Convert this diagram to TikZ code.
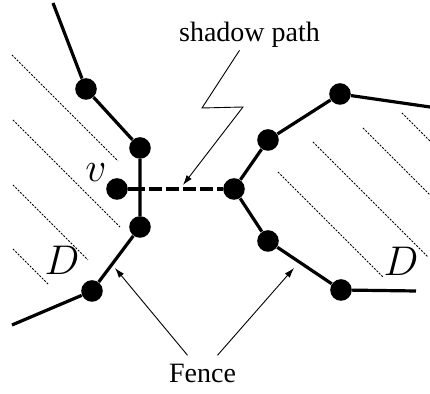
\documentclass[tikz,border=0pt]{standalone}
\usepackage{fontspec}
\setmainfont{Liberation Serif}
\usepackage{tikz}
\usepackage{xcolor}
\usetikzlibrary{arrows.meta,positioning,calc}
\definecolor{ink}{HTML}{000000}
\tikzset{
  post/.style={circle,fill=ink,draw=none,inner sep=0pt,minimum size=10.8pt},
  fenceline/.style={draw=ink,line width=1.6pt},
  shadowline/.style={draw=ink,line width=1.6pt,dash pattern=on 6.5pt off 2pt,dash phase=4pt},
  hatchline/.style={draw=ink,line width=0.45pt,dash pattern=on 1pt off 0.7pt},
  pointer/.style={-{Latex[length=5pt,width=3.2pt]},line width=0.45pt,color=ink},
  caption/.style={font=\fontsize{14}{16}\selectfont,inner sep=1pt,anchor=base},
  mathlbl/.style={font=\fontsize{20}{24}\selectfont,inner sep=0pt}
}

\begin{document}
\begin{tikzpicture}[x=0.5pt,y=-0.5pt]
  \useasboundingbox (0,0) rectangle (430,394);

  % hatching of the two regions D
  \foreach \sx/\sy/\len in {12/55/106,13/120/107,13/185/75,13/249/36,
                            278/172/105,313/142/115,363/128/67,402/113/28} {
    \draw[hatchline] (\sx,\sy) -- ++(\len,\len);
  }

  % left fence
  \coordinate (ltop) at (53,3);
  \coordinate (lend) at (12,325);
  \node[post] (a1) at (86,89) {};
  \node[post] (a2) at (140,148) {};
  \node[post] (a3) at (140,227) {};
  \node[post] (a4) at (92,291) {};
  \draw[fenceline] (ltop) -- (a1) -- (a2) -- (a3) -- (a4) -- (lend);

  % right fence
  \coordinate (rtop) at (430,107);
  \coordinate (rend) at (416,291);
  \node[post] (b3) at (340,94) {};
  \node[post] (b2) at (268,140) {};
  \node[post] (b1) at (234,189) {};
  \node[post] (b4) at (268,241) {};
  \node[post] (b5) at (341,290) {};
  \draw[fenceline] (rtop) -- (b3) -- (b2) -- (b1) -- (b4) -- (b5) -- (rend);

  % the vertex v and its shadow path
  \node[post] (v) at (117,189) {};
  \node[mathlbl] (vname) at (96,173) {$v$};
  \coordinate (cross) at (v -| a2);
  \draw[fenceline] (v) -- (cross);
  \draw[shadowline] (cross) -- (b1);

  \node[mathlbl] (dleft) at (62,260) {$D$};
  \node[mathlbl] (dright) at (401,261) {$D$};

  % labels with their pointers
  \node[caption] (shadow) at (249.5,42) {shadow path};
  \coordinate (sp) at (183,185);
  \draw[pointer] ([xshift=-5pt]shadow.south) -- (202,108) -- (243,107) -- (sp);

  \node[caption] (fence) at (202.5,383) {Fence};
  \coordinate (fa) at (115,268);
  \coordinate (fb) at (294,268);
  \draw[pointer] ($(fence.north)+(-15,-7)$) -- (fa);
  \draw[pointer] ($(fence.north)+(15,-7)$) -- (fb);
\end{tikzpicture}
\end{document}
